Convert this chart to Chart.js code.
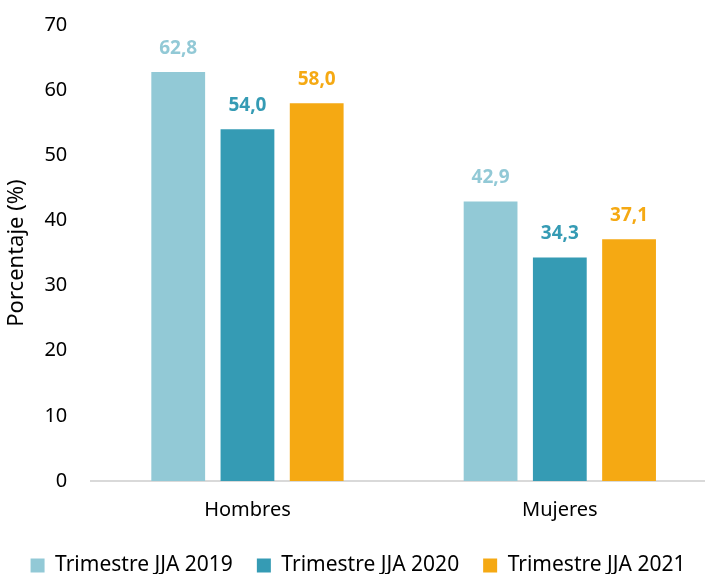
<!DOCTYPE html>
<html>
<head>
<meta charset="utf-8">
<script src="https://cdn.jsdelivr.net/npm/chart.js@4/dist/chart.umd.min.js"></script>
<style>
  html, body { margin: 0; padding: 0; background: #ffffff; overflow: hidden; }
  #wrap { width: 716px; height: 597px; margin-top: -11px; }
</style>
</head>
<body>
<div id="wrap"><canvas id="grafico"></canvas></div>
<script>
// Datos
const categorias = ['Hombres', 'Mujeres'];
const serie2019 = [62.8, 42.9];
const serie2020 = [54.0, 34.3];
const serie2021 = [58.0, 37.1];
const nombresSeries = ['Trimestre JJA 2019', 'Trimestre JJA 2020', 'Trimestre JJA 2021'];
const ticksY = [0, 10, 20, 30, 40, 50, 60, 70];

const COLORES = ['#92C9D6', '#359BB4', '#F5A913'];
const FUENTE = "'Noto Sans', 'Open Sans', sans-serif";

// Etiquetas de valor encima de cada barra
const etiquetasValor = {
    id: 'etiquetasValor',
    afterDatasetsDraw(chart) {
        const ctx = chart.ctx;
        ctx.save();
        ctx.font = 'bold 19px ' + FUENTE;
        ctx.textAlign = 'center';
        ctx.textBaseline = 'bottom';
        chart.data.datasets.forEach((ds, i) => {
            chart.getDatasetMeta(i).data.forEach((bar, j) => {
                ctx.fillStyle = COLORES[i];
                const txt = ds.data[j].toFixed(1).replace('.', ',');
                ctx.fillText(txt, bar.x, bar.y - 14);
            });
        });
        ctx.restore();
    }
};

new Chart(document.getElementById('grafico'), {
    type: 'bar',
    data: {
        labels: categorias,
        datasets: [serie2019, serie2020, serie2021].map((d, i) => ({
            label: nombresSeries[i],
            data: d,
            backgroundColor: COLORES[i],
            borderWidth: 0,
            categoryPercentage: 0.665,
            barPercentage: 0.777,
        }))
    },
    options: {
        responsive: true,
        maintainAspectRatio: false,
        animation: false,
        layout: { padding: { top: 2, right: 0, left: 0, bottom: 0 } },
        plugins: {
            legend: {
                position: 'bottom',
                labels: {
                    color: '#000000',
                    font: { family: FUENTE, size: 21 },
                    boxWidth: 14,
                    boxHeight: 14,
                    padding: 24,
                }
            },
            tooltip: { enabled: false }
        },
        scales: {
            x: {
                grid: { display: false },
                border: { color: '#D9D9D9', width: 2 },
                ticks: { color: '#000000', font: { family: FUENTE, size: 20 }, padding: 9 }
            },
            y: {
                min: 0,
                max: 70,
                afterBuildTicks: axis => { axis.ticks = ticksY.map(v => ({ value: v })); },
                grid: { display: false, drawTicks: false },
                border: { display: false },
                ticks: { color: '#000000', font: { family: FUENTE, size: 20 }, padding: 24 },
                title: {
                    display: true,
                    text: 'Porcentaje (%)',
                    color: '#000000',
                    font: { family: FUENTE, size: 22 },
                    padding: { top: 4, bottom: -10 }
                }
            }
        }
    },
    plugins: [etiquetasValor]
});
</script>
</body>
</html>
